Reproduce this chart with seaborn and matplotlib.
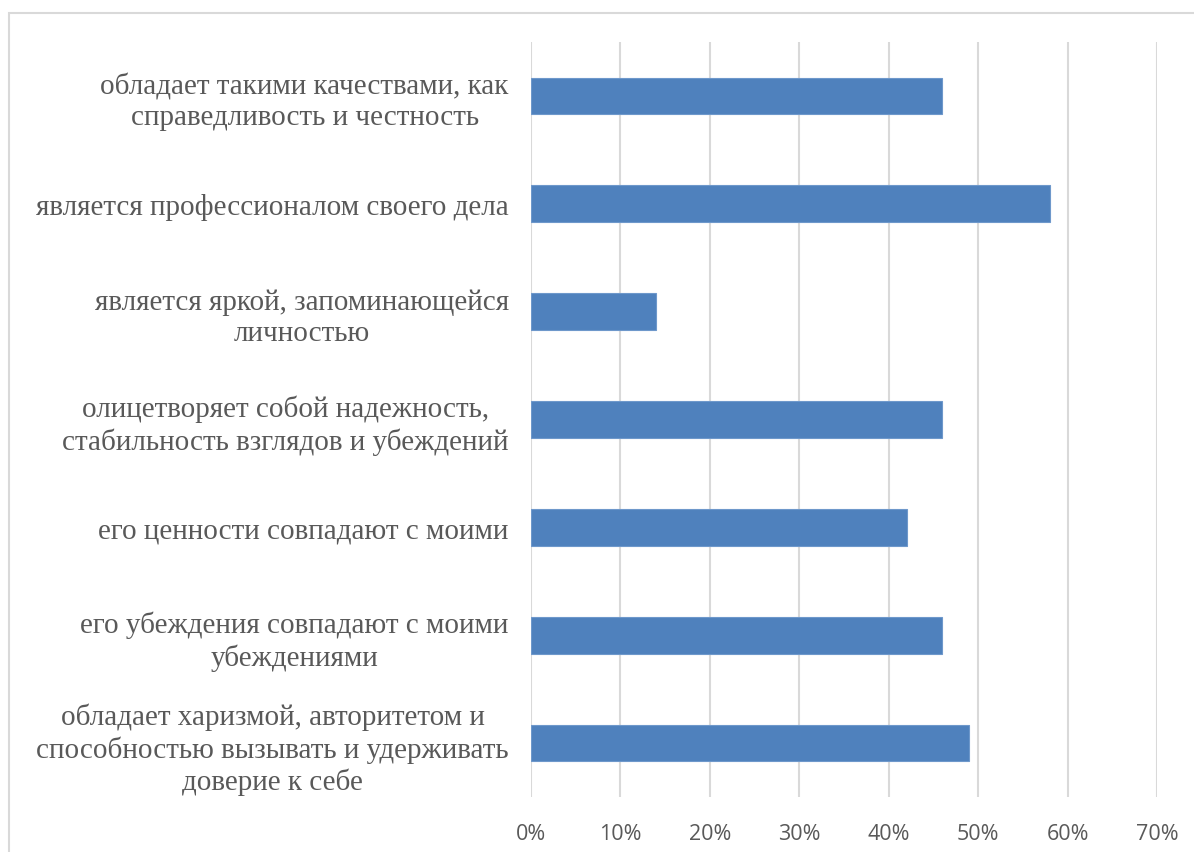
import matplotlib
matplotlib.use("Agg")
import matplotlib.pyplot as plt
from matplotlib.patches import Rectangle
from matplotlib.ticker import FuncFormatter
import seaborn as sns
import pandas as pd

categories = [
    "обладает такими качествами, как\nсправедливость и честность",
    "является профессионалом своего дела",
    "является яркой, запоминающейся\nличностью",
    "олицетворяет собой надежность,\nстабильность взглядов и убеждений",
    "его ценности совпадают с моими",
    "его убеждения совпадают с моими\nубеждениями",
    "обладает харизмой, авторитетом и\nспособностью вызывать и удерживать\nдоверие к себе",
]
shares = [0.46, 0.58, 0.14, 0.46, 0.42, 0.46, 0.49]
tick_values = [0.0, 0.1, 0.2, 0.3, 0.4, 0.5, 0.6, 0.7]

df = pd.DataFrame({"category": categories, "share": shares})

sns.set_theme(style="white")
plt.rcParams["font.family"] = ["Liberation Serif", "DejaVu Serif"]

W, H = 1194, 853
fig = plt.figure(figsize=(W / 100, H / 100), dpi=100)
ax = fig.add_axes([531 / W, 1 - 798 / H, (1157 - 531) / W, (798 - 43) / H])

sns.barplot(data=df, x="share", y="category", orient="h", color="#4F81BD",
            saturation=1, width=0.34, edgecolor="#6E98CB", linewidth=0.8,
            ax=ax, zorder=3)

ax.set_xlim(0, 0.7)
ax.set_ylim(len(categories) - 0.5, -0.5)
ax.set_xticks(tick_values)
ax.xaxis.set_major_formatter(FuncFormatter(lambda v, _: f"{v * 100:.0f}%"))
ax.grid(axis="x", color="#D9D9D9", linewidth=1.5, zorder=0)
ax.grid(axis="y", visible=False)
for s in ax.spines.values():
    s.set_visible(False)
ax.set_xlabel("")
ax.set_ylabel("")
ax.tick_params(axis="x", length=0, pad=19, labelsize=15.5, labelcolor="#595959")
ax.tick_params(axis="y", length=0, pad=16, labelsize=21, labelcolor="#595959")
for t in ax.get_xticklabels():
    t.set_fontfamily(["Open Sans", "DejaVu Sans"])
for t in ax.get_yticklabels():
    t.set_multialignment("center")
    t.set_linespacing(1.25)

# outer chart frame
fig.patches.append(Rectangle((9 / W, -0.1), 1.2, 1 - 14 / H + 0.1,
                             transform=fig.transFigure, fill=False,
                             edgecolor="#D9D9D9", linewidth=1.5))

fig.savefig("out.png", dpi=100, facecolor="white")
